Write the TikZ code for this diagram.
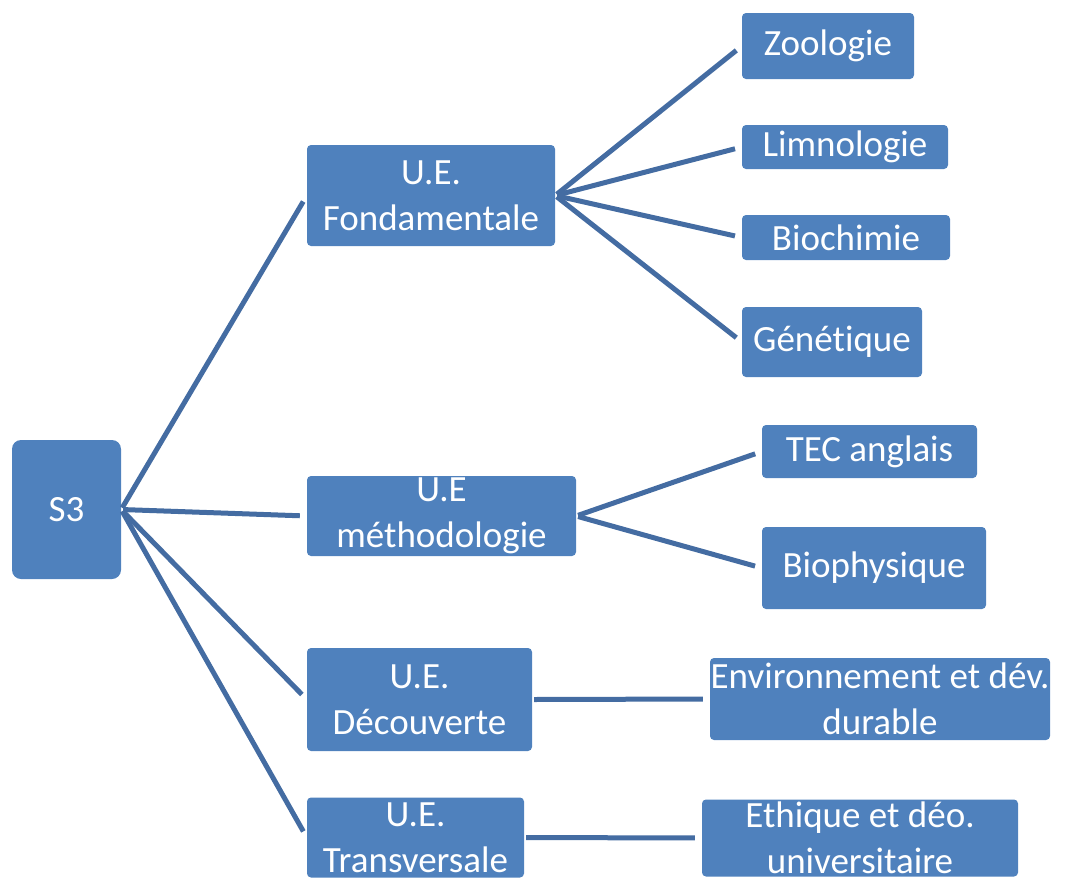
\documentclass[tikz,border=0pt]{standalone}
\usepackage{fontspec}
\setmainfont{Carlito}[Ligatures=NoCommon]
\definecolor{boxblue}{RGB}{79,129,189}
\definecolor{linkblue}{RGB}{68,108,162}

\begin{document}
\begin{tikzpicture}[x=1pt,y=-1pt,
  box/.style={fill=boxblue,text=white,rounded corners=4pt,inner sep=0pt,align=center,font=\fontsize{37}{46}\selectfont},
  every edge/.style={draw=linkblue,line width=5pt,shorten <=2pt,shorten >=7pt}]

\useasboundingbox (0,0) rectangle (1076,879);

\node[box,rounded corners=9pt,minimum width=109pt,minimum height=139pt](s3) at (66.5,509.5){S3};

\node[box,minimum width=248pt,minimum height=101pt](uef) at (431,195.5){U.E.\\Fondamentale};
\node[box,minimum width=269pt,minimum height=80pt](uem) at (441.5,516){U.E\\méthodologie};
\node[box,minimum width=225pt,minimum height=103pt](ued) at (419.5,699.5){U.E.\\Découverte};
\node[box,minimum width=217pt,minimum height=80pt](uet) at (415.5,837.5){U.E.\\Transversale};

\node[box,minimum width=172pt,minimum height=66pt](zoo) at (828,46){Zoologie};
\node[box,minimum width=206pt,minimum height=44pt](lim) at (845,147){Limnologie};
\node[box,minimum width=208pt,minimum height=45pt](bio) at (846,237.5){Biochimie};
\node[box,minimum width=180pt,minimum height=70pt](gen) at (832,342){Génétique};
\node[box,minimum width=215pt,minimum height=53pt](tec) at (869.5,451.5){TEC anglais};
\node[box,minimum width=224pt,minimum height=82pt](phy) at (874,568){Biophysique};
\node[box,minimum width=340pt,minimum height=82pt](env) at (880,699){Environnement et dév.\\durable};
\node[box,minimum width=316pt,minimum height=77pt](eth) at (860,838){Ethique et déo.\\universitaire};

\path(s3.east)edge(uef.west)
	(s3.east)edge(uem.west)
	(s3.east)edge(ued.west)
	(s3.east)edge(uet.west)
	(uef.east)edge(zoo.west)
	(uef.east)edge(lim.west)
	(uef.east)edge(bio.west)
	(uef.east)edge(gen.west)
	(uem.east)edge(tec.west)
	(uem.east)edge(phy.west)
	(ued.east)edge(env.west)
	(uet.east)edge(eth.west);

\end{tikzpicture}
\end{document}
